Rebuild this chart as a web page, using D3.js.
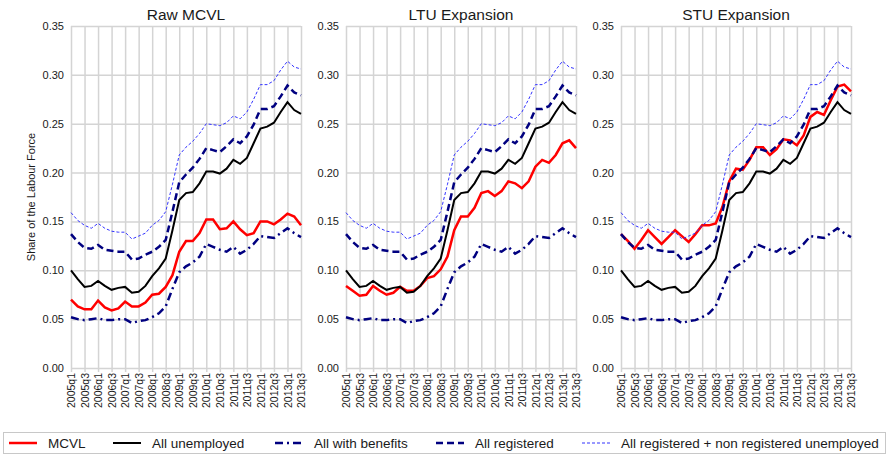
<!DOCTYPE html>
<html>
<head>
<meta charset="utf-8">
<script src="https://cdn.jsdelivr.net/npm/d3@7"></script>
<style>
  body { margin: 0; background: #fff; }
  svg { font-family: "Liberation Sans", Arial, sans-serif; }
  .grid line { stroke: #d4d4d4; stroke-width: 1.5; }
  .grid path { display: none; }
  .grid text { fill: #1a1a1a; }
</style>
</head>
<body>
<div id="chart"></div>
<script>
var quarters = [
  "2005q1", "2005q2", "2005q3", "2005q4", "2006q1", "2006q2", "2006q3", "2006q4",
  "2007q1", "2007q2", "2007q3", "2007q4", "2008q1", "2008q2", "2008q3", "2008q4",
  "2009q1", "2009q2", "2009q3", "2009q4", "2010q1", "2010q2", "2010q3", "2010q4",
  "2011q1", "2011q2", "2011q3", "2011q4", "2012q1", "2012q2", "2012q3", "2012q4",
  "2013q1", "2013q2", "2013q3"
];
var xTickLabels = [
  "2005q1", "2005q3", "2006q1", "2006q3", "2007q1", "2007q3", "2008q1", "2008q3",
  "2009q1", "2009q3", "2010q1", "2010q3", "2011q1", "2011q3", "2012q1", "2012q3",
  "2013q1", "2013q3"
];
var yTicks = [0, 0.05, 0.1, 0.15, 0.2, 0.25, 0.3, 0.35];
var panelTitles = ["Raw MCVL", "LTU Expansion", "STU Expansion"];

// common series (same in every panel)
var allUnemployed = [0.100, 0.091, 0.083, 0.084, 0.089, 0.084, 0.080, 0.082, 0.083, 0.077,
  0.078, 0.084, 0.094, 0.102, 0.112, 0.141, 0.172, 0.179, 0.180, 0.189, 0.201, 0.201,
  0.199, 0.204, 0.213, 0.209, 0.215, 0.230, 0.245, 0.247, 0.251, 0.262, 0.272, 0.264, 0.260];
var allBenefits = [0.052, 0.050, 0.049, 0.050, 0.051, 0.049, 0.049, 0.050, 0.050, 0.046,
  0.048, 0.049, 0.052, 0.056, 0.063, 0.081, 0.098, 0.104, 0.108, 0.114, 0.127, 0.124,
  0.121, 0.119, 0.124, 0.117, 0.121, 0.127, 0.135, 0.134, 0.133, 0.138, 0.143, 0.138, 0.134];
var allRegistered = [0.137, 0.129, 0.123, 0.122, 0.126, 0.121, 0.120, 0.119, 0.119, 0.111,
  0.112, 0.116, 0.119, 0.124, 0.131, 0.160, 0.190, 0.198, 0.205, 0.214, 0.225, 0.223,
  0.221, 0.227, 0.234, 0.230, 0.237, 0.249, 0.265, 0.265, 0.268, 0.278, 0.289, 0.282, 0.279];
var allRegNonReg = [0.159, 0.151, 0.146, 0.143, 0.148, 0.143, 0.140, 0.139, 0.139, 0.132,
  0.135, 0.138, 0.146, 0.151, 0.160, 0.188, 0.218, 0.226, 0.232, 0.240, 0.250, 0.249,
  0.248, 0.251, 0.258, 0.255, 0.262, 0.275, 0.290, 0.290, 0.294, 0.305, 0.314, 0.308, 0.306];

// MCVL series, one per panel
var mcvlRaw = [0.070, 0.063, 0.060, 0.060, 0.069, 0.062, 0.059, 0.061, 0.068, 0.063,
  0.063, 0.067, 0.075, 0.076, 0.083, 0.095, 0.119, 0.130, 0.130, 0.138, 0.152, 0.152,
  0.142, 0.143, 0.150, 0.142, 0.136, 0.138, 0.150, 0.150, 0.147, 0.152, 0.158, 0.155, 0.146];
var mcvlLTU = [0.084, 0.079, 0.074, 0.075, 0.084, 0.079, 0.075, 0.077, 0.083, 0.079,
  0.079, 0.084, 0.092, 0.094, 0.101, 0.114, 0.141, 0.155, 0.155, 0.164, 0.179, 0.181,
  0.176, 0.181, 0.191, 0.189, 0.184, 0.191, 0.206, 0.213, 0.210, 0.218, 0.230, 0.233, 0.225];
var mcvlSTU = [0.137, 0.130, 0.122, 0.131, 0.141, 0.134, 0.127, 0.134, 0.141, 0.135,
  0.129, 0.137, 0.146, 0.146, 0.148, 0.165, 0.191, 0.204, 0.203, 0.213, 0.226, 0.226,
  0.218, 0.224, 0.234, 0.233, 0.228, 0.238, 0.257, 0.262, 0.259, 0.274, 0.288, 0.290, 0.283];
var mcvlByPanel = [mcvlRaw, mcvlLTU, mcvlSTU];

var legendLabels = ["MCVL", "All unemployed", "All with benefits", "All registered",
  "All registered + non registered unemployed"];

var width = 889, height = 455;
var panelLeft = [71, 346, 621], panelW = 230, panelTop = 26, panelBottom = 368;

var styles = [
  { color: "#ff0000", w: 2.5, dash: null },
  { color: "#000000", w: 2, dash: null },
  { color: "#000080", w: 2.5, dash: "8,4,2,4" },
  { color: "#000080", w: 2.5, dash: "7,4" },
  { color: "#3333ff", w: 1, dash: "3,2" }
];

var svg = d3.select("#chart").append("svg")
  .attr("width", width)
  .attr("height", height);

var x = d3.scalePoint().domain(quarters).range([0, panelW]);
var y = d3.scaleLinear().domain([0, 0.35]).range([panelBottom - panelTop, 0]);
var ph = panelBottom - panelTop;

var line = d3.line()
  .x((d, i) => x(quarters[i]))
  .y((d) => y(d));

panelTitles.forEach(function (title, p) {
  var g = svg.append("g")
    .attr("transform", "translate(" + panelLeft[p] + "," + panelTop + ")");

  // horizontal grid + y labels
  g.append("g")
    .attr("class", "grid")
    .call(d3.axisLeft(y).tickValues(yTicks).tickSize(-panelW).tickPadding(7)
      .tickFormat(d3.format(".2f")))
    .selectAll("text")
    .style("font-size", "11px");

  // vertical grid + x labels
  var xg = g.append("g")
    .attr("class", "grid")
    .attr("transform", "translate(0," + ph + ")")
    .call(d3.axisBottom(x).tickValues(xTickLabels).tickSize(-ph).tickSizeOuter(0));
  xg.selectAll("line").attr("y2", 4).attr("y1", -ph);
  xg.selectAll("text")
    .attr("transform", "rotate(-90)")
    .attr("x", -5)
    .attr("y", 0)
    .attr("dy", "0.35em")
    .style("text-anchor", "end")
    .style("font-size", "10.5px");

  // title
  g.append("text")
    .attr("x", panelW / 2)
    .attr("y", -6)
    .attr("text-anchor", "middle")
    .style("font-size", "15.5px")
    .style("fill", "#1a1a1a")
    .text(title);

  var series = [mcvlByPanel[p], allUnemployed, allBenefits, allRegistered, allRegNonReg];
  series.forEach(function (s, k) {
    g.append("path")
      .datum(s)
      .attr("fill", "none")
      .attr("stroke", styles[k].color)
      .attr("stroke-width", styles[k].w)
      .attr("stroke-dasharray", styles[k].dash)
      .attr("d", line);
  });
});

// y axis title
svg.append("text")
  .attr("transform", "translate(35," + (panelTop + ph / 2) + ") rotate(-90)")
  .attr("text-anchor", "middle")
  .style("font-size", "11px")
  .style("fill", "#1a1a1a")
  .text("Share of the Labour Force");

// Legend
var legend = svg.append("g");
legend.append("rect")
  .attr("x", 3.5).attr("y", 432.5)
  .attr("width", 882).attr("height", 21)
  .attr("fill", "#fff")
  .attr("stroke", "#c8c8c8");

var legendX = [9, 113, 275, 436, 582];
legendLabels.forEach(function (lab, k) {
  legend.append("line")
    .attr("x1", legendX[k]).attr("x2", legendX[k] + 28)
    .attr("y1", 443).attr("y2", 443)
    .attr("stroke", styles[k].color)
    .attr("stroke-width", styles[k].w)
    .attr("stroke-dasharray", styles[k].dash);
  legend.append("text")
    .attr("x", legendX[k] + 39)
    .attr("y", 443)
    .attr("dy", "0.35em")
    .style("font-size", "13.5px")
    .style("fill", "#1a1a1a")
    .text(lab);
});
</script>
</body>
</html>
